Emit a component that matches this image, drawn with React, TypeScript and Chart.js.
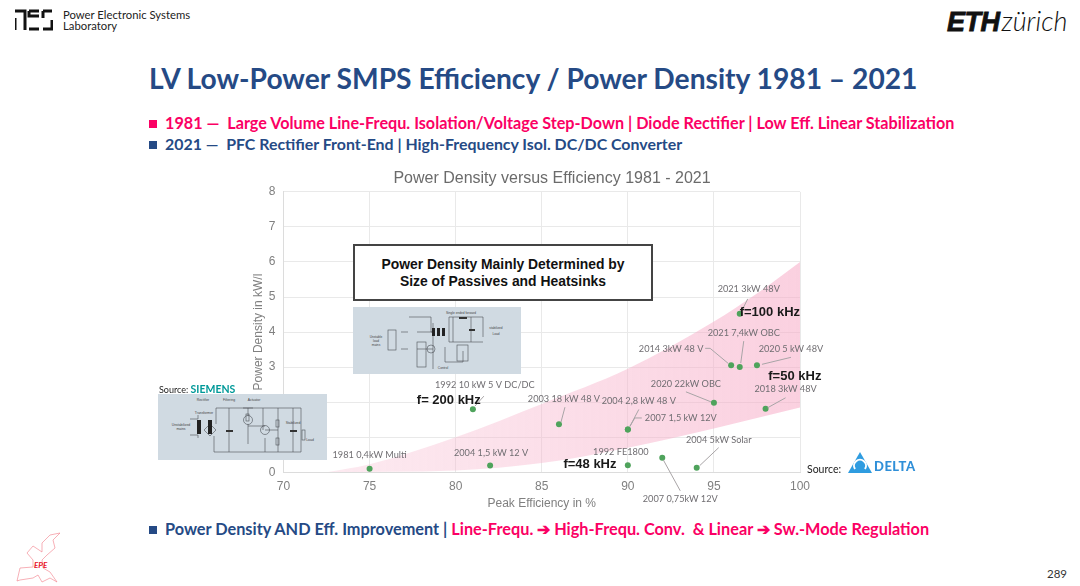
import { useEffect, useRef } from "react";
import type { CSSProperties, ReactNode } from "react";
import Chart from "chart.js/auto";

// peak efficiency (%) and power density (kW/l)
const efficiency = [75, 81, 86, 82, 90, 90, 90, 92, 94, 95, 98, 96, 96.5, 97.5, 96.5];
const density = [0.1, 1.8, 1.37, 0.19, 1.22, 1.22, 0.2, 0.41, 0.13, 1.98, 1.81, 3.05, 3.0, 3.05, 4.52];
const pointNames = [
  "1981 0,4kW Multi",
  "1992 10 kW 5 V DC/DC",
  "2003 18 kW 48 V",
  "2004 1,5 kW 12 V",
  "2004 2,8 kW 48 V",
  "2007 1,5 kW 12V",
  "1992 FE1800",
  "2007 0,75kW 12V",
  "2004 5kW Solar",
  "2020 22kW OBC",
  "2018 3kW 48V",
  "2014 3kW 48 V",
  "2021 7,4kW OBC",
  "2020 5 kW 48V",
  "2021 3kW 48V",
];

// pink band edges
const bandUpperX = [72.5, 75, 80, 85, 90, 95, 97.5, 100];
const bandUpperY = [0, 0.23, 1.0, 1.95, 2.95, 4.3, 5.1, 6.0];
const bandLowerX = [72.5, 80, 85, 90, 95, 100];
const bandLowerY = [0, 0.05, 0.26, 0.7, 1.25, 1.85];

// switching frequency notes
const freqNames = ["f=100 kHz", "f=50 kHz", "f= 200 kHz", "f=48 kHz"];
const freqX = [98.25, 99.7, 79.6, 87.8];
const freqY = [4.56, 2.73, 2.05, 0.23];

// label offset from its point in px, then the leader line, same order as pointNames
const labelPlacement: { dx: number; dy: number; leader?: number[][] }[] = [
  { dx: 0, dy: -13.5 },
  { dx: 12, dy: -24, leader: [[11, -13], [2, -3]] },
  { dx: 5, dy: -25, leader: [[6, -17], [2, -2]] },
  { dx: 1, dy: -13 },
  { dx: 11, dy: -28, leader: [[11, -20], [2, -3]] },
  { dx: 53, dy: -11.5, leader: [[14, -11.5], [7, -11.5], [2, -3]] },
  { dx: -7, dy: -13 },
  { dx: 18, dy: 41, leader: [[18, 33], [1, 2]] },
  { dx: 22, dy: -28, leader: [[22, -20], [3, -2]] },
  { dx: -28, dy: -19, leader: [[-28, -11], [-3, -1]] },
  { dx: 20, dy: -20, leader: [[20, -11], [2, -1]] },
  { dx: -60, dy: -16, leader: [[-26, -17], [-21, -17], [-3, -2]] },
  { dx: 4, dy: -34, leader: [[4, -26], [1, -4]] },
  { dx: 34, dy: -16, leader: [[34, -8], [5, -1]] },
  { dx: 9, dy: -25, leader: [[8, -15], [2, -3]] },
];

const ARIAL = "'Liberation Sans', Arial, sans-serif";
const SLIDE = "Lato, 'Noto Sans', sans-serif";
const PINK = "#fb0064";
const NAVY = "#254a85";

const notesPlugin = {
  id: "notes",
  afterDatasetsDraw(chart: any) {
    const { ctx, scales } = chart;
    ctx.save();
    pointNames.forEach((name, i) => {
      const px = scales.x.getPixelForValue(efficiency[i]);
      const py = scales.y.getPixelForValue(density[i]);
      const place = labelPlacement[i];
      if (place.leader) {
        ctx.strokeStyle = "#a8a4a6";
        ctx.lineWidth = 1;
        ctx.beginPath();
        place.leader.forEach(([dx, dy], k) => {
          if (k === 0) ctx.moveTo(px + dx, py + dy);
          else ctx.lineTo(px + dx, py + dy);
        });
        ctx.stroke();
      }
      ctx.font = `9.2px ${SLIDE}`;
      ctx.fillStyle = "#706e72";
      ctx.textAlign = "center";
      ctx.textBaseline = "middle";
      ctx.fillText(name, px + place.dx, py + place.dy);
    });
    freqNames.forEach((name, i) => {
      ctx.font = `bold 13px ${ARIAL}`;
      ctx.fillStyle = "#1a1a1a";
      ctx.textAlign = "center";
      ctx.textBaseline = "middle";
      ctx.fillText(name, scales.x.getPixelForValue(freqX[i]), scales.y.getPixelForValue(freqY[i]));
    });
    ctx.restore();
  },
};

function PowerDensityChart() {
  const canvasRef = useRef<HTMLCanvasElement>(null);

  useEffect(() => {
    if (!canvasRef.current) return;
    const chart = new Chart(canvasRef.current, {
      type: "scatter",
      data: {
        datasets: [
          {
            data: bandUpperX.map((x, i) => ({ x, y: bandUpperY[i] })),
            showLine: true,
            pointRadius: 0,
            borderWidth: 0,
            cubicInterpolationMode: "monotone",
            fill: "+1",
            order: 2,
            backgroundColor: (c: any) => {
              const area = c.chart.chartArea;
              if (!area) return "rgba(248,190,210,0.6)";
              const g = c.chart.ctx.createLinearGradient(area.left, 0, area.right, 0);
              g.addColorStop(0, "rgba(247,190,210,0.3)");
              g.addColorStop(1, "rgba(247,170,198,0.55)");
              return g;
            },
          },
          {
            data: bandLowerX.map((x, i) => ({ x, y: bandLowerY[i] })),
            showLine: true,
            pointRadius: 0,
            borderWidth: 0,
            cubicInterpolationMode: "monotone",
            order: 2,
          },
          {
            data: efficiency.map((x, i) => ({ x, y: density[i] })),
            pointRadius: 3,
            pointHoverRadius: 3,
            pointBackgroundColor: "#4fa35c",
            pointBorderWidth: 0,
            order: 1,
          },
        ],
      },
      options: {
        responsive: false,
        animation: false,
        layout: { padding: 0 },
        plugins: {
          legend: { display: false },
          tooltip: { enabled: false },
          title: {
            display: true,
            text: "Power Density versus Efficiency 1981 - 2021",
            color: "#6b6b6b",
            font: { family: ARIAL, size: 16, weight: "normal" },
            padding: { top: 4, bottom: 3.7 },
          },
        },
        scales: {
          x: {
            type: "linear",
            min: 70,
            max: 100,
            grid: { color: "#e9e9e9", drawTicks: false },
            border: { color: "#dcdcdc" },
            ticks: { stepSize: 5, color: "#808080", font: { family: ARIAL, size: 12 }, padding: 7 },
            title: {
              display: true,
              text: "Peak Efficiency in %",
              color: "#808080",
              font: { family: ARIAL, size: 12 },
              padding: { top: -4, bottom: 1 },
            },
          },
          y: {
            min: 0,
            max: 8,
            grid: { color: "#e9e9e9", drawTicks: false },
            border: { color: "#dcdcdc" },
            ticks: { stepSize: 1, color: "#808080", font: { family: ARIAL, size: 12 }, padding: 8 },
            title: {
              display: true,
              text: "Power Density in kW/l",
              color: "#808080",
              font: { family: ARIAL, size: 12 },
              padding: { top: 11, bottom: 0 },
            },
            afterFit(s: any) {
              s.width = 43.5;
            },
          },
          // empty axis only holds the room right of the plot, the title centres over it
          y2: {
            position: "right",
            min: 0,
            max: 8,
            grid: { display: false },
            border: { display: false },
            ticks: { display: false },
            afterFit(s: any) {
              s.width = 64;
            },
          },
        },
      },
      plugins: [notesPlugin],
    } as any);
    return () => chart.destroy();
  }, []);

  return <canvas ref={canvasRef} width={624} height={347} style={{ position: "absolute", left: 240, top: 165 }} />;
}

function Txt({ x, y, style, children }: { x: number; y: number; style?: CSSProperties; children: ReactNode }) {
  return (
    <div
      style={{
        position: "absolute",
        left: x,
        top: y,
        transform: "translateY(-50%)",
        whiteSpace: "pre",
        fontFamily: SLIDE,
        lineHeight: 1,
        ...style,
      }}
    >
      {children}
    </div>
  );
}

function Bullet({ y, color }: { y: number; color: string }) {
  return <div style={{ position: "absolute", left: 149, top: y - 3, width: 8, height: 8, background: color }} />;
}

// line drawing of the linear supply
function LinearSupply() {
  return (
    <svg width={169} height={66} viewBox="0 0 169 66" style={{ position: "absolute", left: 158, top: 394, background: "#d0dae2" }}>
      <g fill="none" stroke="#4a4f55" strokeWidth={0.6}>
        <path d="M32 25 H40 V21 M32 41 H40 V44 M58 30 V14 H143 V58 H56 V42" />
        <path d="M71 14 V58 M90 14 V22 M90 30 V50 M120 14 V58 M135 14 V58 M105 14 V36 M107 36 H120" />
        <path d="M85 14 H95 M90 32 H107 M107 44 V58" />
        <circle cx={90} cy={26} r={4.5} />
        <circle cx={107} cy={36} r={4.5} />
        <rect x={88} y={20} width={3} height={7} />
        <rect x={118} y={26} width={3} height={7} />
        <rect x={118} y={44} width={3} height={7} />
        <rect x={144} y={36} width={3} height={10} />
        <path d="M52 30 L58 36 L52 42 L46 36 Z" />
      </g>
      <rect x={39} y={26} width={4} height={14} fill="#222" />
      <rect x={50} y={26} width={4} height={14} fill="#222" />
      <rect x={68} y={36} width={7} height={2} fill="#333" />
      <rect x={132} y={36} width={7} height={2} fill="#333" />
      <g fill="#444" fontFamily={ARIAL} fontSize={3.4} textAnchor="middle">
        <text x={45} y={7}>Rectifier</text>
        <text x={71} y={7}>Filtering</text>
        <text x={96} y={7}>Actuator</text>
        <text x={46} y={20}>Transformer</text>
        <text x={23} y={32}>Unstabilized</text>
        <text x={23} y={36}>mains</text>
        <text x={135} y={30}>Stabilized</text>
        <text x={152} y={47}>Load</text>
      </g>
    </svg>
  );
}

// line drawing of the forward converter
function ForwardConverter() {
  return (
    <svg width={168} height={67} viewBox="0 0 168 67" style={{ position: "absolute", left: 353, top: 307, background: "#d0dae2" }}>
      <g fill="none" stroke="#4a4f55" strokeWidth={0.6}>
        <path d="M55 25 H48 M55 42 H48 M64 25 H80 M64 42 H80 M80 16 V62 M56 10 H78 V25 H82" />
        <path d="M96 10 V35 H130 M96 10 H130 M130 10 V30 M100 10 V35 M118 10 V35 M92 40 V55 H110 M110 55 V44" />
        <rect x={35} y={23} width={8} height={20} />
        <rect x={64} y={35} width={9} height={25} />
        <rect x={104} y={38} width={11} height={16} />
        <circle cx={78} cy={42} r={4} />
      </g>
      <rect x={79} y={21} width={3} height={8} fill="#222" />
      <rect x={84} y={21} width={3} height={8} fill="#222" />
      <rect x={89} y={21} width={3} height={8} fill="#222" />
      <rect x={106} y={10} width={8} height={2} fill="#333" />
      <rect x={116} y={22} width={6} height={2} fill="#333" />
      <g fill="#444" fontFamily={ARIAL} fontSize={3.2} textAnchor="middle">
        <text x={108} y={7}>Single ended forward</text>
        <text x={23} y={31}>Unstable</text>
        <text x={23} y={35}>load</text>
        <text x={23} y={39}>mains</text>
        <text x={143} y={22}>stabilized</text>
        <text x={143} y={28}>Load</text>
        <text x={90} y={62}>Control</text>
      </g>
    </svg>
  );
}

export default function App() {
  return (
    <div style={{ position: "fixed", inset: 0, background: "#fff", overflow: "hidden" }}>
      {/* header */}
      <svg width={38} height={22} viewBox="0 0 38 22" style={{ position: "absolute", left: 15, top: 9 }}>
        <path
          d="M0 2 H10 V21 M0 9 V21 M14 2 H24 M14 2 V7 H24 M14 20 H24 M28 2 H37 M28 2 V9 M37 11 V20 H28"
          fill="none"
          stroke="#111"
          strokeWidth={3}
        />
      </svg>
      <Txt x={63} y={15} style={{ fontSize: 11.3, color: "#222" }}>Power Electronic Systems</Txt>
      <Txt x={63} y={26} style={{ fontSize: 11.3, color: "#222" }}>Laboratory</Txt>
      <Txt x={947} y={21} style={{ fontSize: 27, color: "#111", fontStyle: "italic" }}>
        <span style={{ fontWeight: 900, letterSpacing: -0.5, fontFamily: ARIAL, WebkitTextStroke: "0.8px #111" }}>ETH</span>
        <span style={{ fontWeight: 300, marginLeft: 2 }}>zürich</span>
      </Txt>

      <Txt x={149} y={78} style={{ fontSize: 28.2, fontWeight: 700, color: NAVY }}>
        LV Low-Power SMPS Efficiency / Power Density 1981 – 2021
      </Txt>

      <Bullet y={123} color={PINK} />
      <Txt x={165} y={123} style={{ fontSize: 16.2, fontWeight: 700, color: PINK }}>
        {"1981 —  Large Volume Line-Frequ. Isolation/Voltage Step-Down | Diode Rectifier | Low Eff. Linear Stabilization"}
      </Txt>
      <Bullet y={144} color={NAVY} />
      <Txt x={165} y={144} style={{ fontSize: 15.9, fontWeight: 700, color: NAVY }}>
        {"2021 —  PFC Rectifier Front-End | High-Frequency Isol. DC/DC Converter"}
      </Txt>

      <PowerDensityChart />

      {/* things laid over the chart */}
      <div
        style={{
          position: "absolute",
          left: 353,
          top: 244,
          width: 296,
          height: 53,
          background: "#fff",
          border: "2px solid #444",
          display: "flex",
          alignItems: "center",
          justifyContent: "center",
          textAlign: "center",
          fontFamily: ARIAL,
          fontWeight: 700,
          fontSize: 13.9,
          lineHeight: "17px",
          color: "#111",
        }}
      >
        Power Density Mainly Determined by
        <br />
        Size of Passives and Heatsinks
      </div>
      <ForwardConverter />
      <LinearSupply />
      <Txt x={159} y={389} style={{ fontSize: 9, color: "#222" }}>
        Source: <span style={{ color: "#009999", fontWeight: 700, fontSize: 10.5 }}>SIEMENS</span>
      </Txt>
      <Txt x={807} y={469} style={{ fontSize: 10.5, color: "#222" }}>Source:</Txt>
      <svg width={24} height={22} viewBox="0 0 24 22" style={{ position: "absolute", left: 848, top: 452 }}>
        <path d="M12 0 L24 21 H0 Z" fill="#2f9ce0" />
        <path d="M7 17 A6 6 0 1 1 17 17" fill="none" stroke="#fff" strokeWidth={2} />
      </svg>
      <Txt x={874} y={466} style={{ fontSize: 13, fontWeight: 900, color: "#2f8fd8", letterSpacing: 0.5 }}>DELTA</Txt>

      {/* footer */}
      <Bullet y={529} color={NAVY} />
      <Txt x={165} y={529} style={{ fontSize: 16.3, fontWeight: 700, color: NAVY }}>
        {"Power Density AND Eff. Improvement | "}
        <span style={{ color: PINK }}>{"Line-Frequ. ➔ High-Frequ. Conv.  & Linear ➔ Sw.-Mode Regulation"}</span>
      </Txt>
      <svg width={46} height={54} viewBox="0 0 46 54" style={{ position: "absolute", left: 16, top: 531 }}>
        <path
          d="M1 50 L4 37 L17 36 L17 29 L11 22 L17 15 L26 21 L26 12 L34 4 L44 2 L37 9 L39 17 L31 24 L26 29 L27 37 L34 41 L41 51 L34 47 L26 51 L22 44 L17 47 L4 49 Z"
          fill="none"
          stroke="#f27a86"
          strokeWidth={0.6}
        />
      </svg>
      <Txt x={34} y={565} style={{ fontSize: 8, fontWeight: 700, fontStyle: "italic", color: "#e8102a" }}>EPE</Txt>
      <Txt x={1047} y={574} style={{ fontSize: 11.5, color: "#333" }}>289</Txt>
    </div>
  );
}
